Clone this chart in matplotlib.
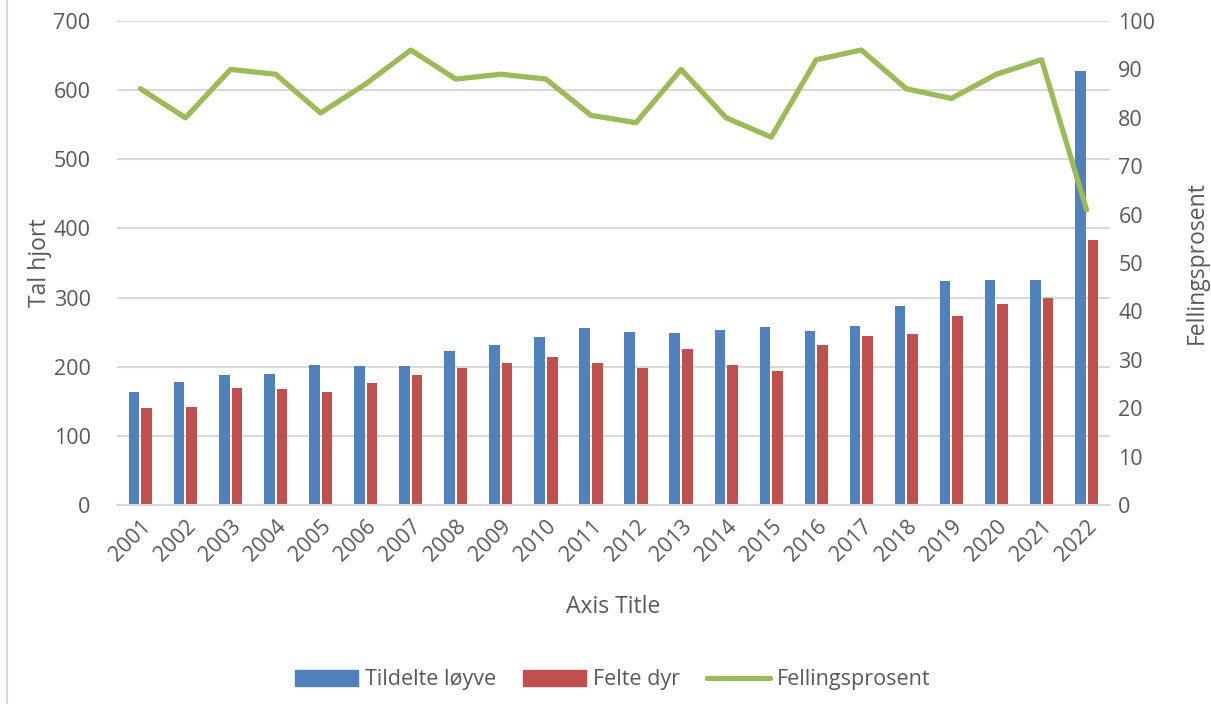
import matplotlib
matplotlib.use("Agg")
import matplotlib.pyplot as plt
import numpy as np
from matplotlib.lines import Line2D

years = [str(y) for y in range(2001, 2023)]
tildelte = [164, 178, 188, 189, 202, 201, 201, 223, 232, 243, 256, 250, 249, 253, 257, 252, 259, 288, 324, 326, 326, 628]
felte = [141, 142, 169, 168, 164, 177, 188, 198, 206, 214, 206, 198, 225, 202, 194, 231, 244, 248, 273, 291, 300, 383]
fellingsprosent = [86, 80, 90, 89, 81, 87, 94, 88, 89, 88, 80.5, 79, 90, 80, 76, 92, 94, 86, 84, 89, 92, 61]

BLUE = "#4F81BD"
RED = "#C0504D"
GREEN = "#9BBB59"
TXT = "#595959"
GRID = "#D9D9D9"

plt.rcParams['font.family'] = ['Open Sans', 'DejaVu Sans']

fig = plt.figure(figsize=(12.11, 7.04), dpi=100)
ax = fig.add_axes([117/1211, 1-505/704, (1110-117)/1211, (505-21)/704])
ax2 = ax.twinx()

x = np.arange(len(years))
w = 0.235
ax.bar(x - 0.14, tildelte, width=w, color=BLUE, zorder=2, label="Tildelte løyve")
ax.bar(x + 0.14, felte, width=w, color=RED, zorder=2, label="Felte dyr")
ax2.plot(x, fellingsprosent, color=GREEN, lw=3.8, solid_joinstyle='round', solid_capstyle='round', zorder=3)

ax.set_xlim(-0.52, len(years) - 0.48)
ax.set_ylim(0, 700)
ax.set_yticks(range(0, 701, 100))
ax2.set_ylim(0, 100)
ax2.set_yticks(range(0, 101, 10))
ax.yaxis.grid(True, color=GRID, lw=1.5, zorder=0)
ax.set_axisbelow(True)

for a in (ax, ax2):
    for s in a.spines.values():
        s.set_visible(False)
    a.tick_params(length=0, labelsize=15.5, colors=TXT)
ax.spines['bottom'].set_visible(True)
ax.spines['bottom'].set_color(GRID)
ax.spines['bottom'].set_linewidth(1.5)

ax.tick_params(axis='y', pad=19)
ax2.tick_params(axis='y', pad=6)
ax.set_xticks(x)
ax.set_xticklabels(years, rotation=45, ha='right', rotation_mode='anchor')
ax.tick_params(axis='x', pad=8)

ax.set_ylabel("Tal hjort", fontsize=16.5, color=TXT, labelpad=1)
ax2.set_ylabel("Fellingsprosent", fontsize=16.5, color=TXT, labelpad=21)
ax.set_xlabel("Axis Title", fontsize=16.5, color=TXT, labelpad=21)

handles = [plt.Rectangle((0, 0), 1, 1, color=BLUE), plt.Rectangle((0, 0), 1, 1, color=RED),
           Line2D([0], [0], color=GREEN, lw=3.8, solid_capstyle='round')]
leg = fig.legend(handles, ["Tildelte løyve", "Felte dyr", "Fellingsprosent"], ncol=3,
                 loc='center', bbox_to_anchor=(613/1211, 1-680/704), frameon=False,
                 fontsize=15.5, handlelength=2.9, handleheight=0.75, columnspacing=1.25, handletextpad=0.35)
for t in leg.get_texts():
    t.set_color(TXT)

fig.add_artist(Line2D([7/1211, 7/1211], [0, 1], color=GRID, lw=1.5, transform=fig.transFigure))

fig.savefig("out.png", dpi=100)
